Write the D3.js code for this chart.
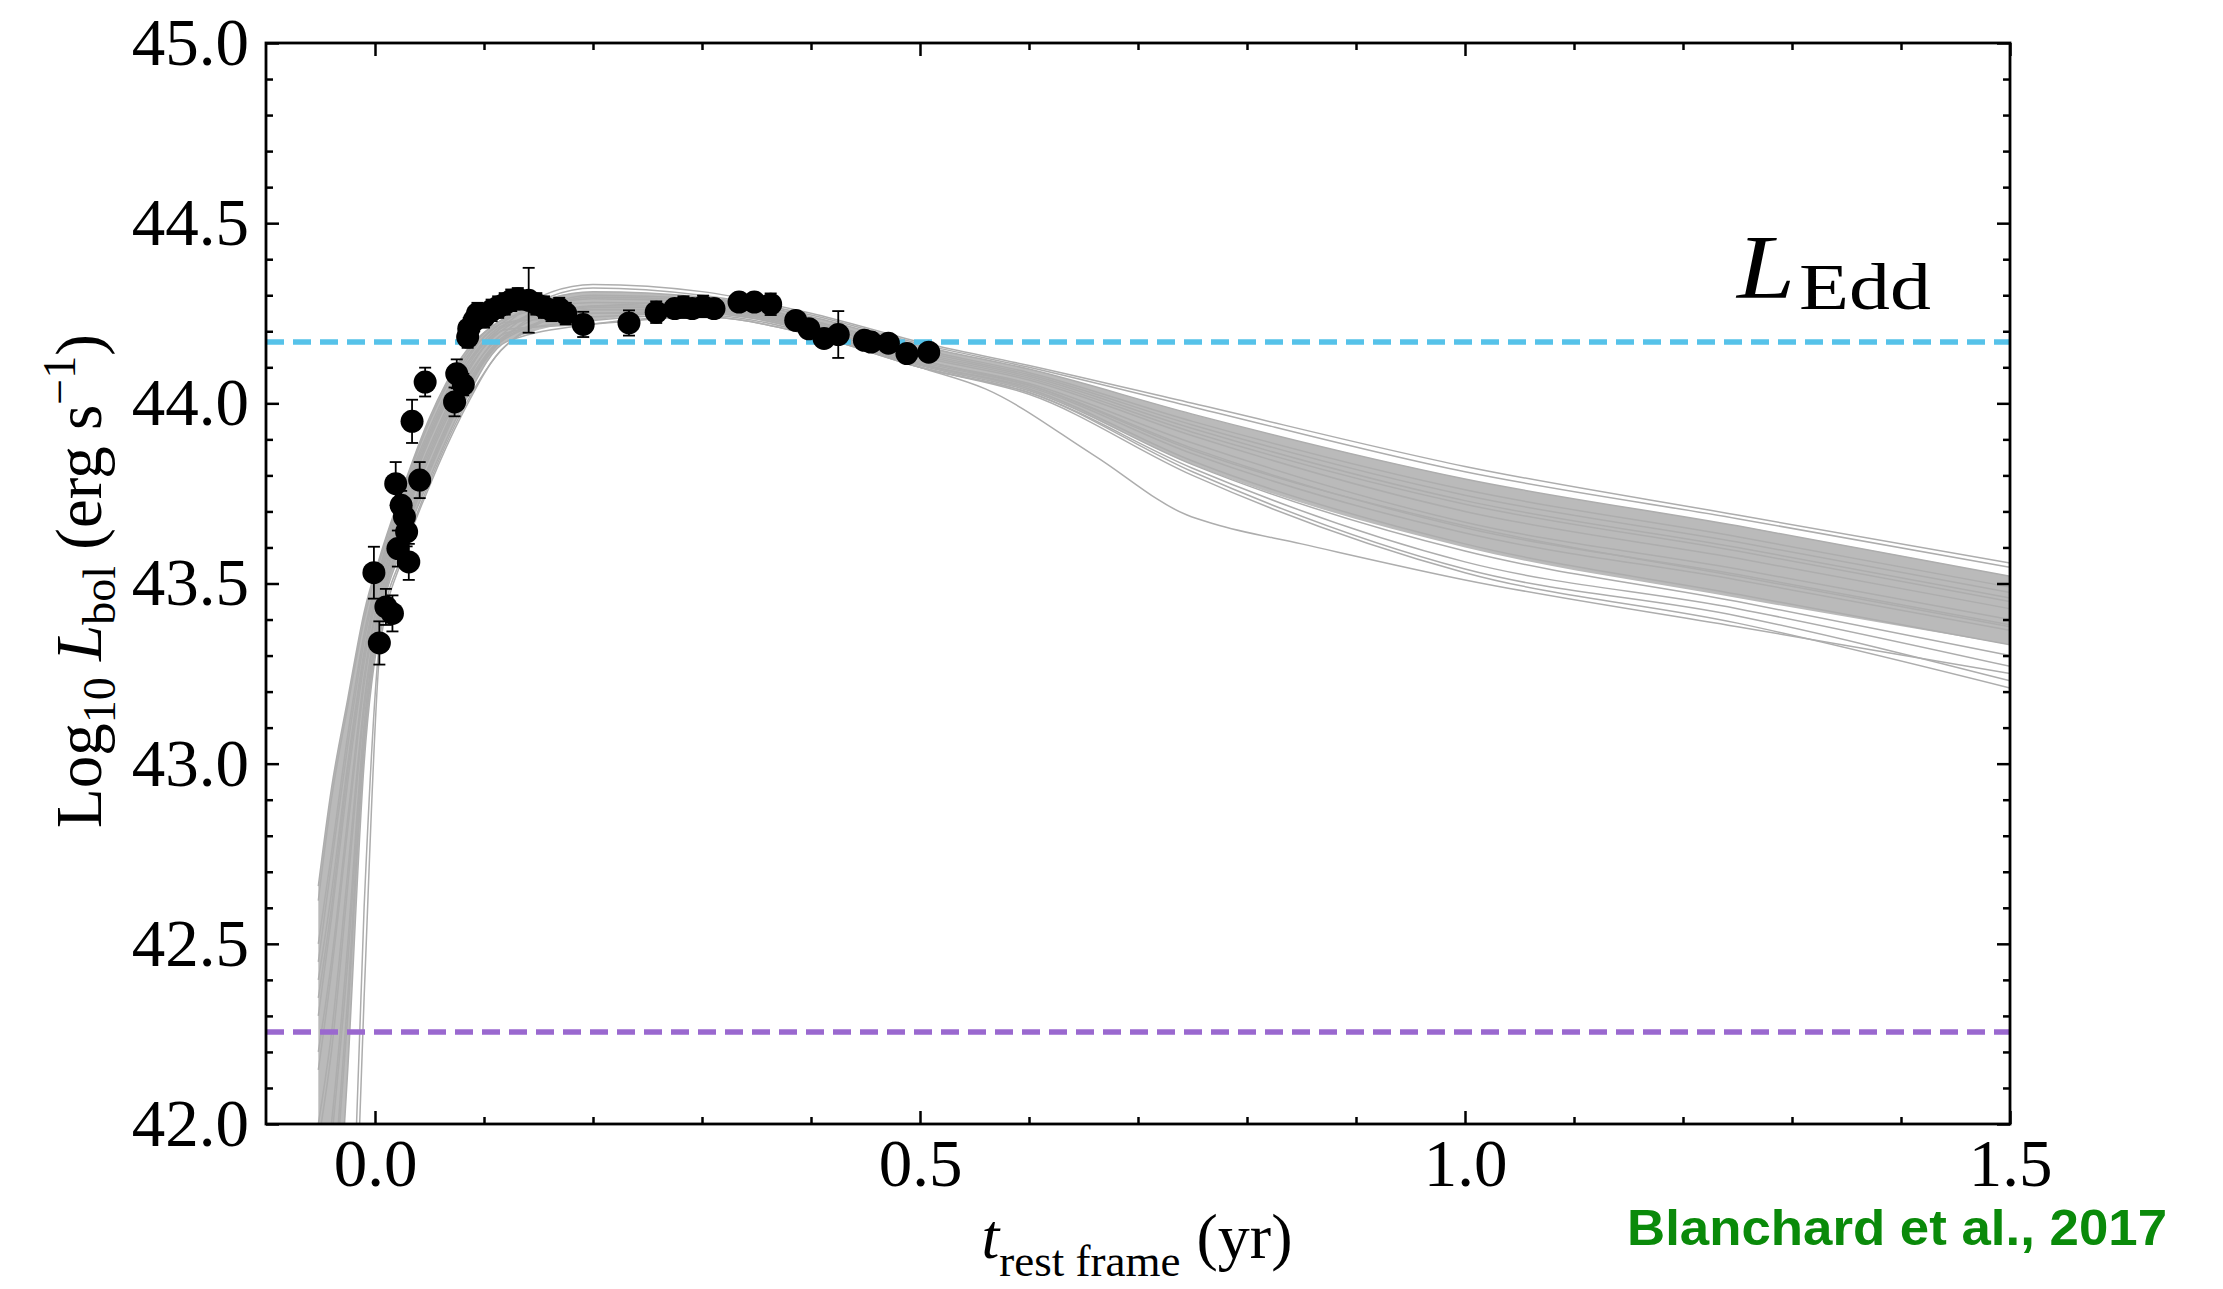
<!DOCTYPE html>
<html>
<head>
<meta charset="utf-8">
<script src="https://cdn.jsdelivr.net/npm/d3@7"></script>
<style>
  body { margin: 0; background: #fff; }
  svg { display: block; }
</style>
</head>
<body>
<div id="canvas"></div>
<script>
// observed points (t in yr, log10 L, error)
const obsT = [-0.001, 0.004, 0.010, 0.016, 0.019, 0.024, 0.027, 0.029, 0.021, 0.031,
  0.041, 0.034, 0.046, 0.073, 0.075, 0.081, 0.085, 0.086, 0.091, 0.094,
  0.100, 0.107, 0.113, 0.119, 0.125, 0.131, 0.141, 0.148, 0.155, 0.162,
  0.169, 0.175, 0.191, 0.233, 0.258, 0.275, 0.283, 0.291, 0.301, 0.311,
  0.334, 0.348, 0.363, 0.386, 0.398, 0.412, 0.425, 0.449, 0.455, 0.471,
  0.488, 0.508];
const obsL = [43.53, 43.335, 43.435, 43.417, 43.777, 43.717, 43.685, 43.643, 43.597, 43.56,
  43.787, 43.95, 44.059, 44.004, 44.082, 44.052, 44.184, 44.207, 44.23, 44.249,
  44.24, 44.258, 44.267, 44.276, 44.286, 44.29, 44.286, 44.276, 44.267, 44.258,
  44.263, 44.249, 44.219, 44.223, 44.253, 44.263, 44.267, 44.263, 44.269, 44.263,
  44.281, 44.281, 44.275, 44.23, 44.207, 44.18, 44.191, 44.175, 44.17, 44.167,
  44.138, 44.142];
const obsErr = [0.072, 0.06, 0.05, 0.05, 0.06, 0.04, 0.04, 0.04, 0.05, 0.05,
  0.05, 0.06, 0.04, 0.04, 0.04, 0.03, 0.03, 0.03, 0.03, 0.03,
  0.03, 0.03, 0.03, 0.03, 0.03, 0.03, 0.09, 0.03, 0.03, 0.03,
  0.03, 0.03, 0.035, 0.035, 0.03, 0.025, 0.03, 0.025, 0.03, 0.025,
  0.02, 0.02, 0.03, 0.02, 0.02, 0.02, 0.065, 0.02, 0.025, 0.02,
  0.02, 0.02];

// model light curves sampled on a common time grid
const modelT = [-0.052, -0.04, -0.025, -0.01, 0.005, 0.025, 0.05, 0.08, 0.12, 0.2, 0.3, 0.4, 0.5, 0.6, 0.75, 1.0, 1.25, 1.5];
const model01 = [42.66, 42.93, 43.18, 43.42, 43.58, 43.76, 43.96, 44.13, 44.24, 44.33, 44.31, 44.25, 44.17, 44.105, 44.00, 43.825, 43.69, 43.557];
const model02 = [42.35, 42.60, 42.98, 43.30, 43.52, 43.71, 43.91, 44.09, 44.22, 44.32, 44.30, 44.245, 44.165, 44.10, 43.99, 43.81, 43.68, 43.545];
const model03 = [42.50, 42.75, 43.08, 43.36, 43.55, 43.74, 43.93, 44.11, 44.23, 44.31, 44.295, 44.24, 44.16, 44.095, 43.97, 43.79, 43.66, 43.52];
const model04 = [42.00, 42.25, 42.70, 43.17, 43.46, 43.67, 43.86, 44.05, 44.20, 44.30, 44.29, 44.23, 44.15, 44.085, 43.95, 43.76, 43.63, 43.49];
const model05 = [42.20, 42.45, 42.85, 43.24, 43.49, 43.69, 43.88, 44.07, 44.21, 44.29, 44.28, 44.225, 44.14, 44.075, 43.93, 43.73, 43.60, 43.46];
const model06 = [42.62, 42.90, 43.16, 43.40, 43.57, 43.75, 43.95, 44.12, 44.235, 44.28, 44.275, 44.22, 44.13, 44.065, 43.91, 43.70, 43.57, 43.43];
const model07 = [41.70, 42.00, 42.50, 43.11, 43.43, 43.64, 43.83, 44.03, 44.19, 44.27, 44.27, 44.215, 44.12, 44.055, 43.89, 43.67, 43.54, 43.40];
const model08 = [42.30, 42.57, 42.95, 43.28, 43.51, 43.70, 43.90, 44.08, 44.215, 44.26, 44.26, 44.21, 44.11, 44.045, 43.86, 43.64, 43.51, 43.37];
const model09 = [41.20, 41.70, 42.30, 43.05, 43.41, 43.62, 43.81, 44.01, 44.18, 44.25, 44.255, 44.205, 44.11, 44.04, 43.84, 43.61, 43.47, 43.33];
const model10 = [42.45, 42.72, 43.05, 43.34, 43.54, 43.73, 43.92, 44.10, 44.225, 44.24, 44.25, 44.20, 44.105, 44.035, 43.83, 43.59, 43.45, 43.30];
const model11 = [41.95, 42.20, 42.66, 43.15, 43.45, 43.66, 43.85, 44.04, 44.195, 44.23, 44.245, 44.195, 44.10, 44.03, 43.82, 43.56, 43.43, 43.27];
const model12 = [42.15, 42.42, 42.82, 43.22, 43.48, 43.68, 43.87, 44.06, 44.205, 44.22, 44.24, 44.19, 44.10, 44.03, 43.81, 43.54, 43.41, 43.23];
const model13 = [40.80, 41.40, 42.15, 43.00, 43.39, 43.60, 43.79, 43.99, 44.17, 44.22, 44.24, 44.19, 44.10, 44.025, 43.80, 43.53, 43.39, 43.21];
const model14 = [40.00, 40.50, 41.30, 42.60, 43.36, 43.58, 43.78, 43.98, 44.16, 44.27, 44.28, 44.22, 44.135, 44.07, 43.92, 43.72, 43.59, 43.45];
const model15 = [40.00, 40.50, 41.10, 42.35, 43.33, 43.57, 43.77, 43.97, 44.16, 44.26, 44.26, 44.21, 44.12, 44.05, 43.87, 43.66, 43.52, 43.38];
const model16 = [41.30, 41.75, 42.35, 43.07, 43.42, 43.63, 43.82, 44.02, 44.185, 44.295, 44.285, 44.23, 44.145, 44.08, 43.94, 43.745, 43.615, 43.475];
const model17 = [42.40, 42.64, 43.00, 43.31, 43.53, 43.72, 43.91, 44.09, 44.22, 44.265, 44.265, 44.212, 44.115, 44.05, 43.875, 43.655, 43.525, 43.385];
// one model that breaks away below the bundle near 0.75 yr
const outlierT = [-0.052, -0.04, -0.025, -0.01, 0.005, 0.025, 0.05, 0.08, 0.12, 0.2, 0.3, 0.4, 0.5, 0.56, 0.66, 0.745, 0.77, 0.85, 1.0, 1.25, 1.5];
const outlierL = [41.60, 41.95, 42.45, 43.09, 43.42, 43.63, 43.82, 44.02, 44.185, 44.25, 44.25, 44.20, 44.10, 44.04, 43.855, 43.69, 43.665, 43.61, 43.51, 43.38, 43.25];
// dense core of the model bundle
const bandHi = [42.66, 42.93, 43.18, 43.42, 43.58, 43.76, 43.96, 44.13, 44.24, 44.31, 44.295, 44.24, 44.16, 44.095, 43.97, 43.79, 43.66, 43.52];
const bandLo = [40.80, 41.40, 42.15, 43.00, 43.39, 43.60, 43.79, 43.99, 44.17, 44.23, 44.25, 44.20, 44.105, 44.035, 43.83, 43.60, 43.46, 43.33];

const eddLevel = 44.17;
const lowLevel = 42.255;

const majorX = [0, 0.5, 1.0, 1.5];
const minorX = [0.1, 0.2, 0.3, 0.4, 0.6, 0.7, 0.8, 0.9, 1.1, 1.2, 1.3, 1.4];
const majorY = [42, 42.5, 43, 43.5, 44, 44.5, 45];
const minorY = [42.1, 42.2, 42.3, 42.4, 42.6, 42.7, 42.8, 42.9, 43.1, 43.2, 43.3, 43.4,
  43.6, 43.7, 43.8, 43.9, 44.1, 44.2, 44.3, 44.4, 44.6, 44.7, 44.8, 44.9];

const models = [model01, model02, model03, model04, model05, model06, model07, model08, model09,
  model10, model11, model12, model13, model14, model15, model16, model17];

const serif = "'Liberation Serif', 'Times New Roman', Times, serif";
const width = 2223;
const height = 1289;
const margin = { top: 43, left: 266, right: 213, bottom: 165 };
const iwidth = width - margin.left - margin.right;
const iheight = height - margin.top - margin.bottom;

const svg = d3.select("#canvas").append("svg")
  .attr("width", width)
  .attr("height", height)
  .style("background", "#fff");

const g = svg.append("g").attr("transform", `translate(${margin.left},${margin.top})`);

const x = d3.scaleLinear().domain([-0.1, 1.5]).range([0, iwidth]);
const y = d3.scaleLinear().domain([42, 45]).range([iheight, 0]);

g.append("clipPath").attr("id", "plot-clip")
  .append("rect").attr("width", iwidth).attr("height", iheight);

const plot = g.append("g").attr("clip-path", "url(#plot-clip)");

// model bundle
const band = d3.area()
  .x((d, i) => x(modelT[i]))
  .y0((d, i) => y(bandLo[i]))
  .y1(d => y(d))
  .curve(d3.curveMonotoneX);

plot.append("path")
  .datum(bandHi)
  .attr("d", band)
  .attr("fill", "#bababa");

const line = d3.line()
  .x((d, i) => x(modelT[i]))
  .y(d => y(d))
  .curve(d3.curveMonotoneX);

plot.selectAll(".model").data(models).enter().append("path")
  .attr("class", "model")
  .attr("d", line)
  .attr("fill", "none")
  .attr("stroke", "#adadad")
  .attr("stroke-width", 1.5);

const outlierLine = d3.line()
  .x((d, i) => x(outlierT[i]))
  .y(d => y(d))
  .curve(d3.curveMonotoneX);

plot.append("path")
  .datum(outlierL)
  .attr("d", outlierLine)
  .attr("fill", "none")
  .attr("stroke", "#adadad")
  .attr("stroke-width", 1.5);

// reference levels
plot.append("line")
  .attr("x1", 0).attr("x2", iwidth)
  .attr("y1", y(eddLevel)).attr("y2", y(eddLevel))
  .attr("stroke", "#56c2e9").attr("stroke-width", 5.5)
  .attr("stroke-dasharray", "18,9");

plot.append("line")
  .attr("x1", 0).attr("x2", iwidth)
  .attr("y1", y(lowLevel)).attr("y2", y(lowLevel))
  .attr("stroke", "#9a68cf").attr("stroke-width", 5.5)
  .attr("stroke-dasharray", "18,9");

// data with error bars
const obs = obsT.map((t, i) => ({ t: t, l: obsL[i], e: obsErr[i] }));
const pts = g.append("g").selectAll("g").data(obs).enter().append("g");

pts.append("line")
  .attr("x1", d => x(d.t)).attr("x2", d => x(d.t))
  .attr("y1", d => y(d.l - d.e)).attr("y2", d => y(d.l + d.e))
  .attr("stroke", "#000").attr("stroke-width", 1.8);
pts.append("line")
  .attr("x1", d => x(d.t) - 6).attr("x2", d => x(d.t) + 6)
  .attr("y1", d => y(d.l - d.e)).attr("y2", d => y(d.l - d.e))
  .attr("stroke", "#000").attr("stroke-width", 1.8);
pts.append("line")
  .attr("x1", d => x(d.t) - 6).attr("x2", d => x(d.t) + 6)
  .attr("y1", d => y(d.l + d.e)).attr("y2", d => y(d.l + d.e))
  .attr("stroke", "#000").attr("stroke-width", 1.8);
pts.append("circle")
  .attr("cx", d => x(d.t))
  .attr("cy", d => y(d.l))
  .attr("r", 11.5)
  .attr("fill", "#000");

// axes: ticks inside on all four sides
function styleAxis(sel) {
  sel.select(".domain").remove();
  sel.selectAll(".tick line").attr("stroke", "#000").attr("stroke-width", 2.5);
  sel.selectAll(".tick text")
    .attr("font-family", serif)
    .attr("font-size", 67)
    .attr("fill", "#000");
}

const fmt = d3.format(".1f");

g.append("g").attr("transform", `translate(0,${iheight})`)
  .call(d3.axisBottom(x).tickValues(majorX).tickSize(-13).tickPadding(14).tickFormat(fmt))
  .call(styleAxis);
g.append("g").attr("transform", `translate(0,${iheight})`)
  .call(d3.axisBottom(x).tickValues(minorX).tickSize(-7).tickFormat(""))
  .call(styleAxis);
g.append("g")
  .call(d3.axisTop(x).tickValues(majorX).tickSize(-13).tickFormat(""))
  .call(styleAxis);
g.append("g")
  .call(d3.axisTop(x).tickValues(minorX).tickSize(-7).tickFormat(""))
  .call(styleAxis);

g.append("g")
  .call(d3.axisLeft(y).tickValues(majorY).tickSize(-13).tickPadding(17).tickFormat(fmt))
  .call(styleAxis);
g.append("g")
  .call(d3.axisLeft(y).tickValues(minorY).tickSize(-7).tickFormat(""))
  .call(styleAxis);
g.append("g").attr("transform", `translate(${iwidth},0)`)
  .call(d3.axisRight(y).tickValues(majorY).tickSize(-13).tickFormat(""))
  .call(styleAxis);
g.append("g").attr("transform", `translate(${iwidth},0)`)
  .call(d3.axisRight(y).tickValues(minorY).tickSize(-7).tickFormat(""))
  .call(styleAxis);

g.append("rect")
  .attr("width", iwidth).attr("height", iheight)
  .attr("fill", "none").attr("stroke", "#000").attr("stroke-width", 2.8);

// L_Edd label
svg.append("text")
  .attr("x", 1737).attr("y", 298)
  .attr("font-family", serif).attr("font-style", "italic")
  .attr("font-size", 90)
  .attr("textLength", 58).attr("lengthAdjust", "spacingAndGlyphs")
  .attr("fill", "#000")
  .text("L");
svg.append("text")
  .attr("x", 1799).attr("y", 309)
  .attr("font-family", serif)
  .attr("font-size", 66)
  .attr("textLength", 132).attr("lengthAdjust", "spacingAndGlyphs")
  .attr("fill", "#000")
  .text("Edd");

// x axis title
const xt = svg.append("text")
  .attr("x", 1137).attr("y", 1258)
  .attr("text-anchor", "middle")
  .attr("font-family", serif).attr("font-size", 64).attr("fill", "#000");
xt.append("tspan").attr("font-style", "italic").text("t");
xt.append("tspan").attr("font-size", 45).attr("dy", 18).text("rest frame");
xt.append("tspan").attr("dy", -18).text(" (yr)");

// y axis title
const yt = svg.append("text")
  .attr("transform", "translate(101,581) rotate(-90)")
  .attr("text-anchor", "middle")
  .attr("font-family", serif).attr("font-size", 65).attr("fill", "#000");
yt.append("tspan").text("Log");
yt.append("tspan").attr("font-size", 46).attr("dy", 14).text("10");
yt.append("tspan").attr("dy", -14).text(" ");
yt.append("tspan").attr("font-style", "italic").text("L");
yt.append("tspan").attr("font-size", 46).attr("dy", 14).text("bol");
yt.append("tspan").attr("dy", -14).text(" (erg s");
yt.append("tspan").attr("font-size", 46).attr("dy", -26).text("\u22121");
yt.append("tspan").attr("dy", 26).text(")");

// citation
svg.append("text")
  .attr("x", 1627).attr("y", 1245)
  .attr("font-family", "'Liberation Sans', Arial, Helvetica, sans-serif")
  .attr("font-weight", "bold")
  .attr("font-size", 50)
  .attr("textLength", 540)
  .attr("lengthAdjust", "spacingAndGlyphs")
  .attr("fill", "#0a8a0a")
  .text("Blanchard et al., 2017");
</script>
</body>
</html>
